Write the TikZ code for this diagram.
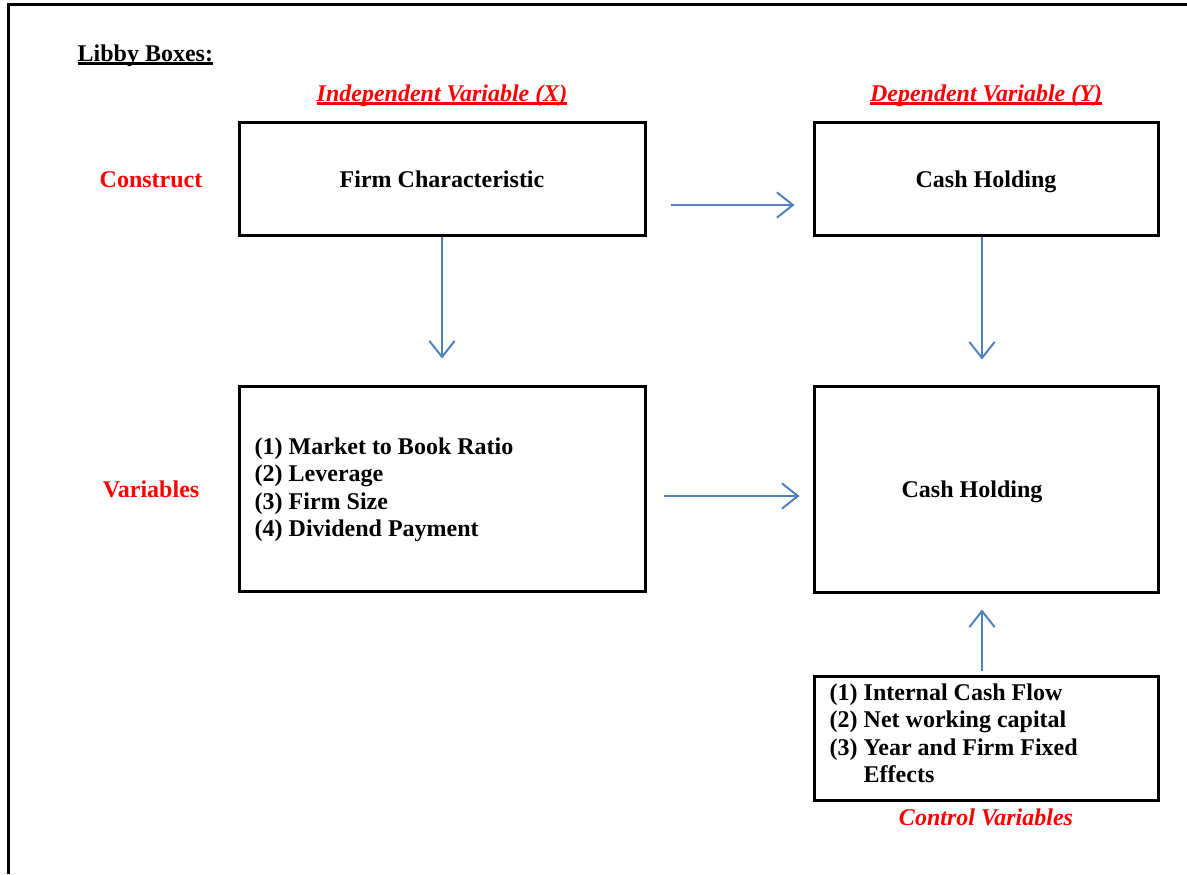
\documentclass[tikz,border=0pt]{standalone}
\usepackage{fontspec}
\setmainfont{Liberation Serif}
\usepackage{tikz}
\usetikzlibrary{positioning,arrows.meta,calc}
\definecolor{flow}{HTML}{4F81BD}
\definecolor{hdred}{HTML}{FF0000}
\newcommand{\thickul}[1]{\setbox0\hbox{#1}\rlap{\rule[-3pt]{\wd0}{2.2pt}}\box0}

\begin{document}
\begin{tikzpicture}[
  x=0.75pt,y=-0.75pt,
  font=\fontsize{18}{20.7}\selectfont\bfseries,
  box/.style={draw,line width=2.25pt,inner sep=0pt,align=center,
              text height=12.75pt,text depth=0pt},
  wide/.style={box,minimum width=304.5pt},
  narrow/.style={box,minimum width=258pt},
  hd/.style={hdred,font=\fontsize{18}{20.7}\selectfont\bfseries\itshape,anchor=base},
  side/.style={hdred,anchor=base},
  arr/.style={-{Straight Barb[length=12pt,width=19pt]},flow,line width=1.5pt}
]
\useasboundingbox (0,0) rectangle (1187,874);
% page frame
\draw[line width=2.25pt] (1187,5) -- (8,5) -- (8,874);

% headings
\node[anchor=base west] (title) at (73,61) {\thickul{Libby Boxes:}};
\node[hd] (indep) at (442,101) {\thickul{Independent Variable (X)}};
\node[hd] (dep)   at (986,101) {\thickul{Dependent Variable (Y)}};
\node[side] (construct) at (151,187) {Construct};
\node[side] (variables) at (151,497) {Variables};

% construct level
\node[wide,minimum height=84.75pt]   (fc)  at (442,178.5) {Firm Characteristic};
\node[narrow,minimum height=84.75pt] (ch1) at (986,178.5) {Cash Holding};

% variable level
\node[wide,minimum height=153.75pt]  (vars) at (442,488.5) {};
\node[anchor=base west] (varlist) at (250,454) {\begin{tabular}[t]{@{}l@{}}
(1) Market to Book Ratio\\(2) Leverage\\(3) Firm Size\\(4) Dividend Payment\end{tabular}};
\node[narrow,minimum height=154.5pt] (ch2) at (986,489) {Cash Holding\hspace*{21pt}};

% controls
\node[narrow,minimum height=93pt] (ctrl) at (986,738) {};
\node[anchor=base west] (ctrllist) at (825,700) {\begin{tabular}[t]{@{}l@{ }l@{}}
(1) & Internal Cash Flow\\(2) & Net working capital\\(3) & Year and Firm Fixed\\ & Effects\end{tabular}};
\node[hd] (ctrllbl) at (986,825) {Control Variables};

% links
\draw[arr] ($(fc.east)+(24,26.5)$) -- ($(ch1.west)+(-18,26.5)$);
\draw[arr] (fc.south) -- ($(vars.north)+(0,-26)$);
\draw[arr] ($(ch1.south)+(-4,0)$) -- ($(ch2.north)+(-4,-25)$);
\draw[arr] ($(vars.east)+(17,7.5)$) -- ($(ch2.west)+(-13,7)$);
\draw[arr] ($(ctrl.north)+(-4,-4)$) -- ($(ch2.south)+(-4,16)$);
\end{tikzpicture}
\end{document}
